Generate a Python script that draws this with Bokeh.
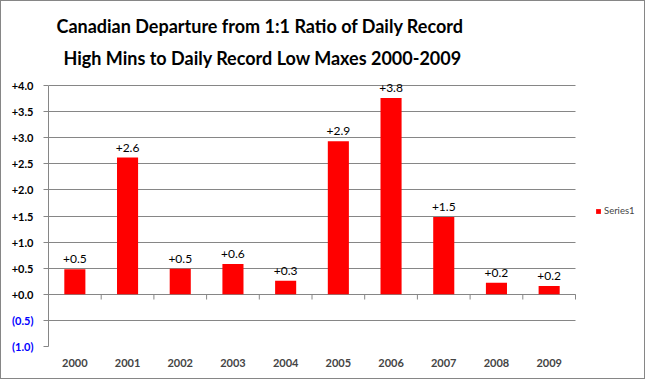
from bokeh.plotting import figure
from bokeh.models import (ColumnDataSource, FixedTicker, Range1d, Legend, LegendItem,
                          LinearAxis, Title)
from bokeh.core.properties import value
from bokeh.embed import file_html
from bokeh.resources import INLINE

# ---- data ----
years = ["2000", "2001", "2002", "2003", "2004", "2005", "2006", "2007", "2008", "2009"]
departure = [0.48, 2.62, 0.49, 0.58, 0.26, 2.93, 3.76, 1.48, 0.22, 0.16]
yticks = [-1.0, -0.5, 0.0, 0.5, 1.0, 1.5, 2.0, 2.5, 3.0, 3.5, 4.0]
title_lines = ["Canadian Departure from 1:1 Ratio of Daily Record",
               "High Mins to Daily Record Low Maxes 2000-2009"]
series_name = "Series1"

GRAY = "#868686"
FONT = "Lato"

# ---- layout (pixels) ----
W, H = 645, 379
LEFT, TOP_PAD, TOP, BOTTOM = 47, 12, 84, 34
PLOT_W, FRAME_W, PLOT_H = 527, 598, 261   # category area, full frame, gridded height

n = len(years)
xs = [i + 0.5 for i in range(n)]
src = ColumnDataSource(dict(x=xs, top=departure,
                            lab=[f"{v:+.1f}" for v in departure]))

y0, y1 = yticks[0], yticks[-1]
y_pad = TOP_PAD * (y1 - y0) / PLOT_H
p = figure(width=W, height=H, output_backend="svg", toolbar_location=None,
           x_range=Range1d(0, n * FRAME_W / PLOT_W), y_range=Range1d(y0, y1 + y_pad),
           min_border_left=LEFT, min_border_right=0, min_border_top=TOP - TOP_PAD,
           min_border_bottom=BOTTOM)
p.styles = {"border": f"1px solid {GRAY}"}
p.outline_line_color = None

# grid
p.xgrid.grid_line_color = None
p.ygrid.ticker = FixedTicker(ticks=yticks)
p.ygrid.grid_line_color = GRAY
try:
    p.ygrid.cross_bounds = (0, n)
except AttributeError:
    pass

# bars
r = p.vbar(x="x", top="top", bottom=0, width=0.4, source=src,
           fill_color="#FF0000", line_color=None)

# bar value labels
p.text(x="x", y="top", text="lab", source=src, text_align="center",
       text_baseline="alphabetic", y_offset=-10, text_font=value(FONT),
       text_font_size="12px", text_color="black")

# category tick marks on the zero line
bounds = list(range(n + 1))
p.segment(x0=bounds, x1=bounds, y0=[0.0] * (n + 1), y1=[-0.1] * (n + 1),
          line_color=GRAY, line_width=1)

# inner y axis: all tick marks, positive labels in black
ya = p.yaxis[0]
ya.ticker = FixedTicker(ticks=yticks)
ya.bounds = (y0, y1)
ya.major_label_overrides = {t: (f"{t:+.1f}" if t >= 0 else "\u200b") for t in yticks}
ya.axis_line_color = GRAY
ya.major_tick_line_color = GRAY
ya.major_tick_out = 5
ya.major_tick_in = 0
ya.minor_tick_line_color = None
ya.major_label_standoff = 10
ya.major_label_text_font = FONT
ya.major_label_text_font_style = "bold"
ya.major_label_text_font_size = "11px"
ya.major_label_text_color = "black"

# outer y axis: negative labels in blue, pulled over the inner axis
neg = [t for t in yticks if t < 0]
ya2 = LinearAxis(ticker=FixedTicker(ticks=neg), bounds=(y0, y1),
                 major_label_overrides={t: f"({abs(t):.1f})" for t in neg},
                 axis_line_color=None, major_tick_line_color=None,
                 minor_tick_line_color=None, major_tick_out=0, major_tick_in=0,
                 major_label_standoff=-25, major_label_text_font=FONT,
                 major_label_text_font_style="bold",
                 major_label_text_font_size="11px",
                 major_label_text_color="#0000FF")
p.add_layout(ya2, "left")

# x axis
xa = p.xaxis[0]
xa.ticker = FixedTicker(ticks=xs)
xa.major_label_overrides = {x: y for x, y in zip(xs, years)}
xa.axis_line_color = None
xa.major_tick_line_color = None
xa.minor_tick_line_color = None
xa.major_label_standoff = 6
xa.major_label_text_font = FONT
xa.major_label_text_font_style = "bold"
xa.major_label_text_font_size = "11px"

# title (two lines, added nearest-first)
for line, off, stand in zip(reversed(title_lines), (15, 8), (10, 6)):
    p.add_layout(Title(text=line, align="left", offset=off, standoff=stand,
                       text_font=FONT, text_font_style="bold",
                       text_font_size="18px", text_color="black"), "above")

# legend (inside the wide frame, right of the gridded area)
leg = Legend(items=[LegendItem(label=series_name, renderers=[r])],
             location=(547, 130), orientation="vertical",
             glyph_width=6, glyph_height=6, label_height=6, label_standoff=3,
             padding=0, margin=0, spacing=0, border_line_color=None,
             background_fill_alpha=0, label_text_font=FONT,
             label_text_font_size="9.5px", label_text_baseline="middle")
p.add_layout(leg)

open("out.html", "w").write(file_html(p, INLINE))
